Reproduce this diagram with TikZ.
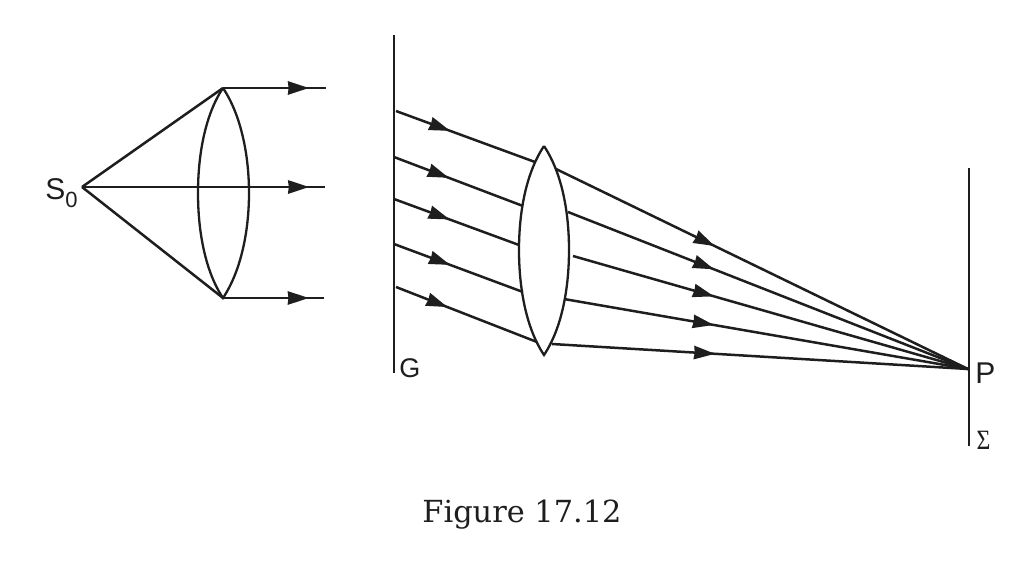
\documentclass[tikz,border=0pt]{standalone}
\usepackage{fontspec}
\setsansfont{Liberation Sans}
\newfontfamily\captionfont{DejaVu Serif}
\newfontfamily\sigmafont{Liberation Serif}
\usetikzlibrary{arrows.meta,decorations.markings}
\definecolor{inkblack}{HTML}{1E1E1E}
\tikzset{
	ray/.style={
			line width=1.25pt, draw=inkblack, postaction={decorate},
			decoration={markings, mark=at position #1 with {\arrow{Stealth[length=10.5pt,width=6.6pt,inset=0.3pt]}}}
		},
	plainray/.style={line width=1.25pt, draw=inkblack},
	lens/.style={line width=1.15pt, draw=inkblack},
	screen/.style={line width=1.25pt, draw=inkblack},
	tag/.style={font=\sffamily\fontsize{15}{18}\selectfont, text=inkblack, inner sep=0pt}
}

\begin{document}
\begin{tikzpicture}[x=0.5pt,y=-0.5pt]
	\useasboundingbox (0,0) rectangle (1035,563);

	% Define the points
	\coordinate (source) at (82,187);
	\coordinate (lensAtop) at (223,88);
	\coordinate (lensAbot) at (223,298);
	\coordinate (lensAleft) at (198,193);
	\coordinate (lensAright) at (249,193);
	\coordinate (lensBtop) at (544,146);
	\coordinate (lensBbot) at (544,355);
	\coordinate (lensBleft) at (519,250);
	\coordinate (lensBright) at (569,250);
	\coordinate (point) at (968,369);
	\coordinate (gtop) at (394,35);
	\coordinate (gbot) at (394,373);
	\coordinate (stop) at (969,168);
	\coordinate (sbot) at (969,446);

	% Labels
	\node[tag, anchor=base west] (labelS) at (45,199.5) {S\raisebox{-4pt}{\fontsize{11}{12}\selectfont 0}};
	\node[tag, anchor=base west, font=\sffamily\fontsize{13.5}{16}\selectfont] (labelG) at (399,377) {G};
	\node[tag, anchor=base west] (labelP) at (975,383) {P};
	\node[inner sep=0pt, text=inkblack] (labelSigma) at (983.5,440) {\sigmafont\fontsize{14}{16}\selectfont\scalebox{0.85}[1]{Σ}};
	\node[inner sep=0pt, text=inkblack] (caption) at (522,515) {\captionfont\fontsize{15.2}{18}\selectfont Figure 17.12};

	% First lens and the rays from the source
	\draw[lens] (lensAtop) .. controls (205,115) and (198,155) .. (lensAleft)
		.. controls (198,231) and (205,271) .. (lensAbot)
		.. controls (241,271) and (249,231) .. (lensAright)
		.. controls (249,155) and (241,115) .. (lensAtop);
	\coordinate (outA) at (326,88);
	\coordinate (outB) at (325,187);
	\coordinate (outC) at (324,298);
	\draw[plainray] (source) -- (lensAtop);
	\draw[plainray] (source) -- (lensAbot);
	\draw[ray=0.835] (lensAtop) -- (outA);
	\draw[ray=0.935] (source) -- (outB);
	\draw[ray=0.85] (lensAbot) -- (outC);

	% Grating
	\draw[screen] (gtop) -- (gbot);

	% Second lens
	\draw[lens] (lensBtop) .. controls (526,173) and (519,212) .. (lensBleft)
		.. controls (519,288) and (526,328) .. (lensBbot)
		.. controls (562,328) and (569,288) .. (lensBright)
		.. controls (569,212) and (562,173) .. (lensBtop);

	% Rays from the grating into the lens
	\coordinate (g1) at (396,111);
	\coordinate (g2) at (394,157);
	\coordinate (g3) at (394,199);
	\coordinate (g4) at (394,244);
	\coordinate (g5) at (396,287);
	\coordinate (in1) at (535,162);
	\coordinate (in2) at (523,206);
	\coordinate (in3) at (519,245);
	\coordinate (in4) at (523,292);
	\coordinate (in5) at (537,342);
	\draw[ray=0.39] (g1) -- (in1);
	\draw[ray=0.425] (g2) -- (in2);
	\draw[ray=0.445] (g3) -- (in3);
	\draw[ray=0.435] (g4) -- (in4);
	\draw[ray=0.365] (g5) -- (in5);

	% Rays from the lens to P
	\coordinate (out1) at (556,169);
	\coordinate (out2) at (568,212);
	\coordinate (out3) at (573,256);
	\coordinate (out4) at (564,299);
	\coordinate (out5) at (552,344);
	\draw[ray=0.385] (out1) -- (point);
	\draw[ray=0.365] (out2) -- (point);
	\draw[ray=0.357] (out3) -- (point);
	\draw[ray=0.371] (out4) -- (point);
	\draw[ray=0.392] (out5) -- (point);

	% Screen
	\draw[screen] (stop) -- (sbot);
\end{tikzpicture}
\end{document}
